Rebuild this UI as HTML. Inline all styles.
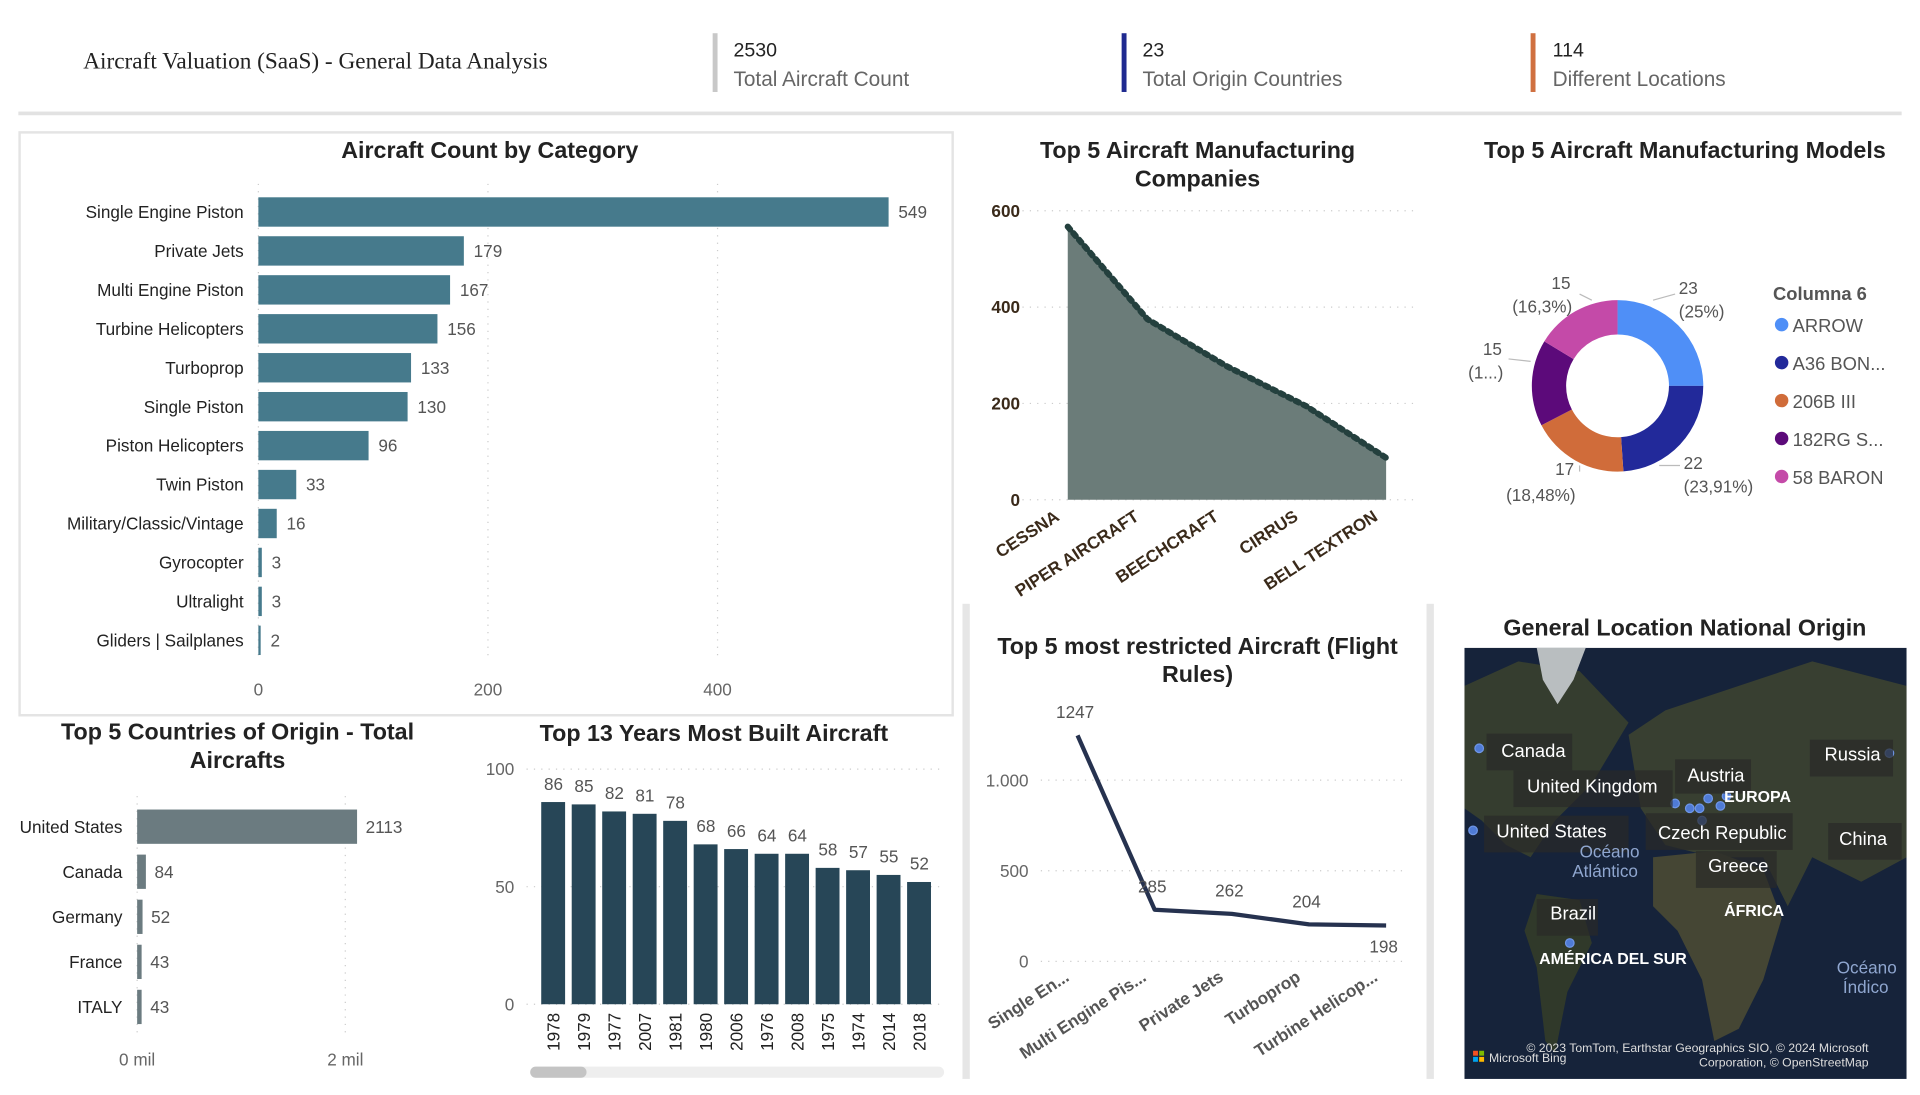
<!DOCTYPE html>
<html><head><meta charset="utf-8">
<style>
html,body{margin:0;padding:0;background:#fff;width:1920px;height:1095px;overflow:hidden}
svg{display:block;font-family:"Liberation Sans",sans-serif}
.t{font-weight:bold;font-size:19px;fill:#222}
.lab{font-size:14px;fill:#222}
.val{font-size:14px;fill:#555}
.tick{font-size:14px;fill:#666}
.grid{stroke:#ccc;stroke-dasharray:1 5}
</style></head>
<body>
<svg id="s" width="1920" height="1095" viewBox="0 0 1568 894">
 <g>
  <text x="68" y="56" font-family="Liberation Serif,serif" font-size="19" fill="#222">Aircraft Valuation (SaaS) - General Data Analysis</text>
  <rect x="582" y="27" width="4" height="48" fill="#c8c8c8"/>
  <text x="599" y="46" font-size="16" fill="#222">2530</text>
  <text x="599" y="70" font-size="17" fill="#666">Total Aircraft Count</text>
  <rect x="916" y="27" width="4" height="48" fill="#1f2a90"/>
  <text x="933" y="46" font-size="16" fill="#222">23</text>
  <text x="933" y="70" font-size="17" fill="#666">Total Origin Countries</text>
  <rect x="1250" y="27" width="4" height="48" fill="#d07040"/>
  <text x="1268" y="46" font-size="16" fill="#222">114</text>
  <text x="1268" y="70" font-size="17" fill="#666">Different Locations</text>
  <rect x="15" y="91" width="1538" height="3" fill="#e2e2e2"/>
 </g>
 <rect x="16" y="108" width="762" height="476" fill="#fff" stroke="#e4e4e4" stroke-width="2"/>
 <rect x="786" y="493" width="6" height="388" fill="#e6e6e6"/>
 <rect x="1165" y="493" width="6" height="388" fill="#e6e6e6"/>
 <text class="t" x="400" y="129" text-anchor="middle">Aircraft Count by Category</text>
 <text class="t" x="194" y="604" text-anchor="middle">Top 5 Countries of Origin - Total</text>
 <text class="t" x="194" y="627" text-anchor="middle">Aircrafts</text>
 <text class="t" x="583" y="605" text-anchor="middle">Top 13 Years Most Built Aircraft</text>
 <text class="t" x="978" y="129" text-anchor="middle">Top 5 Aircraft Manufacturing</text>
 <text class="t" x="978" y="152" text-anchor="middle">Companies</text>
 <text class="t" x="1376" y="129" text-anchor="middle">Top 5 Aircraft Manufacturing Models</text>
 <text class="t" x="978" y="534" text-anchor="middle">Top 5 most restricted Aircraft (Flight</text>
 <text class="t" x="978" y="557" text-anchor="middle">Rules)</text>
 <text class="t" x="1376" y="519" text-anchor="middle">General Location National Origin</text>
 <g id="g1"></g><g id="g2"></g><g id="g3"></g><g id="g4"></g><g id="g5"></g><g id="g6"></g>
 <g>
  <rect x="1196" y="529" width="361" height="352" fill="#16233a"/>
  <path d="M1196 560 L1240 540 L1290 548 L1330 590 L1300 640 L1270 670 L1250 700 L1230 690 L1210 670 L1196 660 Z" fill="#353d2f"/>
  <path d="M1255 529 L1295 529 L1285 555 L1272 575 L1260 555 Z" fill="#b9bec0"/>
  <path d="M1330 600 L1360 580 L1420 560 L1480 540 L1557 560 L1557 700 L1520 720 L1480 700 L1460 740 L1440 700 L1400 700 L1360 690 L1340 660 Z" fill="#383f31"/>
  <path d="M1350 700 L1400 695 L1440 710 L1455 750 L1440 800 L1420 840 L1400 850 L1390 800 L1370 760 L1350 740 Z" fill="#454634"/>
  <path d="M1255 730 L1290 735 L1300 770 L1280 810 L1270 860 L1262 850 L1255 790 L1245 760 Z" fill="#30392a"/>
  <g fill="#4f7bd6" stroke="#6f96e6" stroke-width="1">
   <circle cx="1208" cy="611" r="3.5"/><circle cx="1203" cy="678" r="3.5"/><circle cx="1368" cy="656" r="3.5"/><circle cx="1380" cy="660" r="3.5"/><circle cx="1388" cy="660" r="3.5"/><circle cx="1395" cy="652" r="3.5"/><circle cx="1405" cy="658" r="3.5"/><circle cx="1410" cy="650" r="3.5"/><circle cx="1390" cy="670" r="3.5"/><circle cx="1282" cy="770" r="3.5"/><circle cx="1543" cy="615" r="3.5"/>
  </g>
  <g font-size="15" fill="#fff">
   <rect x="1214" y="599" width="70" height="30" fill="#2a2a28" opacity="0.7"/><text x="1226" y="618">Canada</text>
   <rect x="1236" y="629" width="130" height="30" fill="#2a2a28" opacity="0.7"/><text x="1247" y="647">United Kingdom</text>
   <rect x="1368" y="620" width="62" height="28" fill="#2a2a28" opacity="0.7"/><text x="1378" y="638">Austria</text>
   <text x="1408" y="655" font-weight="bold" font-size="13">EUROPA</text>
   <rect x="1478" y="604" width="68" height="30" fill="#2a2a28" opacity="0.7"/><text x="1490" y="621">Russia</text>
   <rect x="1212" y="666" width="118" height="30" fill="#2a2a28" opacity="0.7"/><text x="1222" y="684">United States</text>
   <rect x="1344" y="664" width="120" height="30" fill="#2a2a28" opacity="0.7"/><text x="1354" y="685">Czech Republic</text>
   <rect x="1493" y="672" width="60" height="30" fill="#2a2a28" opacity="0.7"/><text x="1502" y="690">China</text>
   <rect x="1385" y="695" width="66" height="30" fill="#2a2a28" opacity="0.7"/><text x="1395" y="712">Greece</text>
   <rect x="1255" y="734" width="50" height="30" fill="#2a2a28" opacity="0.7"/><text x="1266" y="751">Brazil</text>
   <text x="1408" y="748" font-weight="bold" font-size="13">ÁFRICA</text>
   <text x="1257" y="787" font-weight="bold" font-size="13">AMÉRICA DEL SUR</text>
   <text x="1290" y="700" fill="#8fa6cf" font-size="14">Océano</text><text x="1284" y="716" fill="#8fa6cf" font-size="14">Atlántico</text>
   <text x="1500" y="795" fill="#8fa6cf" font-size="14">Océano</text><text x="1505" y="811" fill="#8fa6cf" font-size="14">Índico</text>
   <text x="1526" y="859" font-size="10" text-anchor="end" fill="#ddd">© 2023 TomTom, Earthstar Geographics SIO, © 2024 Microsoft</text>
   <text x="1526" y="871" font-size="10" text-anchor="end" fill="#ddd">Corporation, © OpenStreetMap</text>
   <text x="1216" y="867" font-size="10" fill="#ddd">Microsoft Bing</text>
   <rect x="1203" y="858" width="4" height="4" fill="#f25022"/><rect x="1208" y="858" width="4" height="4" fill="#7fba00"/><rect x="1203" y="863" width="4" height="4" fill="#00a4ef"/><rect x="1208" y="863" width="4" height="4" fill="#ffb900"/>
  </g>
 </g>
</svg>
<script>
// Category chart data
const catNames=["Single Engine Piston","Private Jets","Multi Engine Piston","Turbine Helicopters","Turboprop","Single Piston","Piston Helicopters","Twin Piston","Military/Classic/Vintage","Gyrocopter","Ultralight","Gliders | Sailplanes"];
const catValues=[549,179,167,156,133,130,96,33,16,3,3,2];
const catTicks=[0,200,400];
// Countries
const countryNames=["United States","Canada","Germany","France","ITALY"];
const countryValues=[2113,84,52,43,43];
const countryTicks=[0,2000];
const countryTickLabels=["0 mil","2 mil"];
// Years
const yearNames=["1978","1979","1977","2007","1981","1980","2006","1976","2008","1975","1974","2014","2018"];
const yearValues=[86,85,82,81,78,68,66,64,64,58,57,55,52];
const yearTicks=[0,50,100];
// Manufacturers
const mfrNames=["CESSNA","PIPER AIRCRAFT","BEECHCRAFT","CIRRUS","BELL TEXTRON"];
const mfrValues=[567,375,277,194,87];
const mfrTicks=[0,200,400,600];
// Models
const modelNames=["ARROW","A36 BON...","206B III","182RG S...","58 BARON"];
const modelValues=[23,22,17,15,15];
const modelColors=["#4f8ff7","#22299a","#d06c3a","#5c0a7a","#c44aa8"];
// Restricted
const rNames=["Single En...","Multi Engine Pis...","Private Jets","Turboprop","Turbine Helicop..."];
const rValues=[1247,285,262,204,198];
const rTicks=[0,500,1000];
const rTickLabels=["0","500","1.000"];

const NS="http://www.w3.org/2000/svg";
function mk(p,tag,a,txt){const e=document.createElementNS(NS,tag);for(const k in a)e.setAttribute(k,a[k]);if(txt!==undefined)e.textContent=txt;p.appendChild(e);return e;}

// 1 category bars
(function(){const g=document.getElementById('g1');
const x=v=>211+v*0.9375, y=i=>173+i*31.8;
catTicks.forEach(t=>{mk(g,'line',{x1:x(t),x2:x(t),y1:150,y2:540,class:'grid'});const tl=mk(g,'text',{x:x(t),y:568,class:'tick','text-anchor':'middle'},t);

});
catNames.forEach((n,i)=>{const b=mk(g,'rect',{x:211,y:y(i)-12,width:Math.max(1.5,x(catValues[i])-211),height:24,fill:'#467a8c'});


mk(g,'text',{x:199,y:y(i)+5,class:'lab','text-anchor':'end'},n);
mk(g,'text',{x:x(catValues[i])+8,y:y(i)+5,class:'val'},catValues[i]);});})();

// 2 countries
(function(){const g=document.getElementById('g2');
const x=v=>112+v*0.085, y=i=>675+i*36.8;
countryTicks.forEach((t,i)=>{mk(g,'line',{x1:x(t),x2:x(t),y1:650,y2:845,class:'grid'});const tl=mk(g,'text',{x:x(t),y:870,class:'tick','text-anchor':'middle'},countryTickLabels[i]);

});
countryNames.forEach((n,i)=>{const b=mk(g,'rect',{x:112,y:y(i)-14,width:x(countryValues[i])-112,height:28,fill:'#6b7b80'});


mk(g,'text',{x:100,y:y(i)+5,class:'lab','text-anchor':'end',fill:'#444'},n);
mk(g,'text',{x:x(countryValues[i])+7,y:y(i)+5,class:'val','font-size':'13'},countryValues[i]);});})();

// 3 years
(function(){const g=document.getElementById('g3');
const y=v=>820-v*1.92, step=24.9, x=i=>442+i*step;
yearTicks.forEach(t=>{mk(g,'line',{x1:430,x2:772,y1:y(t),y2:y(t),class:'grid'});const tl=mk(g,'text',{x:420,y:y(t)+5,class:'tick','text-anchor':'end'},t);

});
yearNames.forEach((n,i)=>{const b=mk(g,'rect',{x:x(i),y:y(yearValues[i]),width:19.5,height:820-y(yearValues[i]),fill:'#274657'});


mk(g,'text',{x:x(i)+10,y:y(yearValues[i])-10,class:'val','text-anchor':'middle'},yearValues[i]);
mk(g,'text',{x:0,y:0,class:'lab','text-anchor':'end',fill:'#444',transform:`translate(${x(i)+15},827) rotate(-90)`},n);});
const sb=mk(g,'rect',{x:433,y:871,width:338,height:9,rx:4.5,fill:'#eee'});


mk(g,'rect',{x:433,y:871,width:46,height:9,rx:4.5,fill:'#c4c4c4'});})();

// 4 manufacturers area
(function(){const g=document.getElementById('g4');
const y=v=>408-v*0.3933, x=i=>872+i*65;
mfrTicks.forEach(t=>{mk(g,'line',{x1:835,x2:1158,y1:y(t),y2:y(t),class:'grid'});const tl=mk(g,'text',{x:833,y:y(t)+5,'font-size':14,'font-weight':'bold',fill:'#3a2a1a','text-anchor':'end'},t);

});
let d='M'+x(0)+' '+y(0);mfrValues.forEach((v,i)=>d+=' L'+x(i)+' '+y(v));d+=' L'+x(mfrValues.length-1)+' '+y(0)+' Z';
const a=mk(g,'path',{d:d,fill:'#6b7c79'});


const l=mk(g,'polyline',{points:mfrValues.map((v,i)=>x(i)+','+y(v)).join(' '),fill:'none',stroke:'#24403e','stroke-width':5,'stroke-dasharray':'3 4','stroke-linecap':'round'});


mfrNames.forEach((n,i)=>{const t=mk(g,'text',{x:0,y:0,'font-size':14,'font-weight':'bold',fill:'#3a2a1a','text-anchor':'end',transform:`translate(${x(i)-6},424) rotate(-33)`},n);

});})();

// 5 donut
(function(){const g=document.getElementById('g5');
const cx=1321,cy=315,R=70,r=42,tot=modelValues.reduce((a,b)=>a+b,0);let a0=-Math.PI/2;
const pt=(a,rr)=>[cx+rr*Math.cos(a),cy+rr*Math.sin(a)];
modelValues.forEach((v,i)=>{const a1=a0+v/tot*2*Math.PI,lg=(a1-a0)>Math.PI?1:0;
const p1=pt(a0,R),p2=pt(a1,R),p3=pt(a1,r),p4=pt(a0,r);
const s=mk(g,'path',{d:`M${p1} A${R} ${R} 0 ${lg} 1 ${p2} L${p3} A${r} ${r} 0 ${lg} 0 ${p4} Z`,fill:modelColors[i]});


a0=a1;});
const labs=[["23","(25%)",1371,240,1371,259],["22","(23,91%)",1375,383,1375,402],["17","(18,48%)",1270,388,1230,409],["15","(1...)",1211,290,1199,309],["15","(16,3%)",1267,236,1235,255]];
labs.forEach(l=>{mk(g,'text',{x:l[2],y:l[3],class:'val','font-size':13,'text-anchor':'start'},l[0]);mk(g,'text',{x:l[4],y:l[5],class:'val','font-size':13},l[1]);});
[[1350,245,1368,240],[1355,380,1372,380],[1290,380,1290,385],[1250,295,1232,293],[1300,245,1290,240]].forEach(s=>mk(g,'line',{x1:s[0],y1:s[1],x2:s[2],y2:s[3],stroke:'#bbb'}));
mk(g,'text',{x:1448,y:245,'font-size':15,'font-weight':'bold',fill:'#555'},'Columna 6');
modelNames.forEach((n,i)=>{const yy=265+i*31;mk(g,'circle',{cx:1455,cy:yy,r:5.5,fill:modelColors[i]});
const t=mk(g,'text',{x:1464,y:yy+6,'font-size':15,fill:'#555'},n);

});})();

// 6 restricted line
(function(){const g=document.getElementById('g6');
const y=v=>785-v*0.148, x=i=>880+i*63;
rTicks.forEach((t,i)=>{mk(g,'line',{x1:850,x2:1150,y1:y(t),y2:y(t),class:'grid'});const tl=mk(g,'text',{x:840,y:y(t)+5,class:'tick','text-anchor':'end'},rTickLabels[i]);

});
const l=mk(g,'polyline',{points:rValues.map((v,i)=>x(i)+','+y(v)).join(' '),fill:'none',stroke:'#26324f','stroke-width':3.5,'stroke-linejoin':'round'});


rValues.forEach((v,i)=>{const dy=i==rValues.length-1?22:-14;mk(g,'text',{x:x(i)-2,y:y(v)+dy,class:'val','text-anchor':'middle'},v);});
rNames.forEach((n,i)=>{const t=mk(g,'text',{x:0,y:0,'font-size':14,'font-weight':'bold',fill:'#555','text-anchor':'end',transform:`translate(${x(i)-6},800) rotate(-33)`},n);

});})();
</script>
</body></html>
